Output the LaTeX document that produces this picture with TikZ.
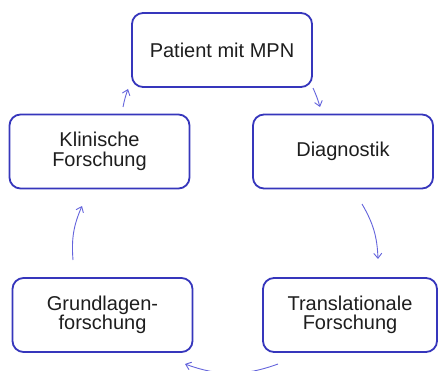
\documentclass[tikz,border=0pt]{standalone}
\usepackage{fontspec}
\setmainfont{Liberation Sans}
\usepackage{tikz}
\usetikzlibrary{arrows.meta}
\definecolor{boxblue}{HTML}{3636BC}
\definecolor{arrowblue}{HTML}{6464DC}
\definecolor{textgray}{HTML}{1E1E1E}
\tikzstyle{stage} = [rectangle, draw=boxblue, line width=1.8pt, fill=white, text=textgray, minimum width=180pt, minimum height=74pt, align=center, rounded corners=11pt, font=\fontsize{20}{19.5}\selectfont, inner sep=0pt]
\tikzstyle{arrow} = [-{Straight Barb[length=5pt,width=8pt]}, draw=arrowblue, line width=0.9pt]

\begin{document}
\begin{tikzpicture}[x=1pt, y=-1pt]
    \useasboundingbox (0,0) rectangle (438,371);

        % nodes
        \node (patient) [stage] at (222,50) {Patient mit MPN};
        \node (diagnostik) [stage] at (343,151.5) {Diagnostik};
        \node (translational) [stage, minimum width=174pt] at (350,315) {Translationale\\Forschung};
        \node (grundlagen) [stage] at (102.5,315) {Grundlagen-\\forschung};
        \node (klinisch) [stage] at (99.5,151.5) {Klinische\\Forschung};

        % arrow ends
        \coordinate (a1) at (313,88);   \coordinate (b1) at (320,107);
        \coordinate (a2) at (362,204);  \coordinate (b2) at (378,259);
        \coordinate (a3) at (278,364);  \coordinate (b3) at (185,364);
        \coordinate (a4) at (73,260);   \coordinate (b4) at (82,206);
        \coordinate (a5) at (123,107);  \coordinate (b5) at (128,89);

        % edges
        \draw [arrow] (a1) to[bend left=4] (b1);
        \draw [arrow] (a2) to[bend left=14] (b2);
        \draw [arrow] (a3) to[bend left=20] (b3);
        \draw [arrow] (a4) to[bend left=14] (b4);
        \draw [arrow] (a5) to[bend left=4] (b5);

    \end{tikzpicture}
\end{document}
